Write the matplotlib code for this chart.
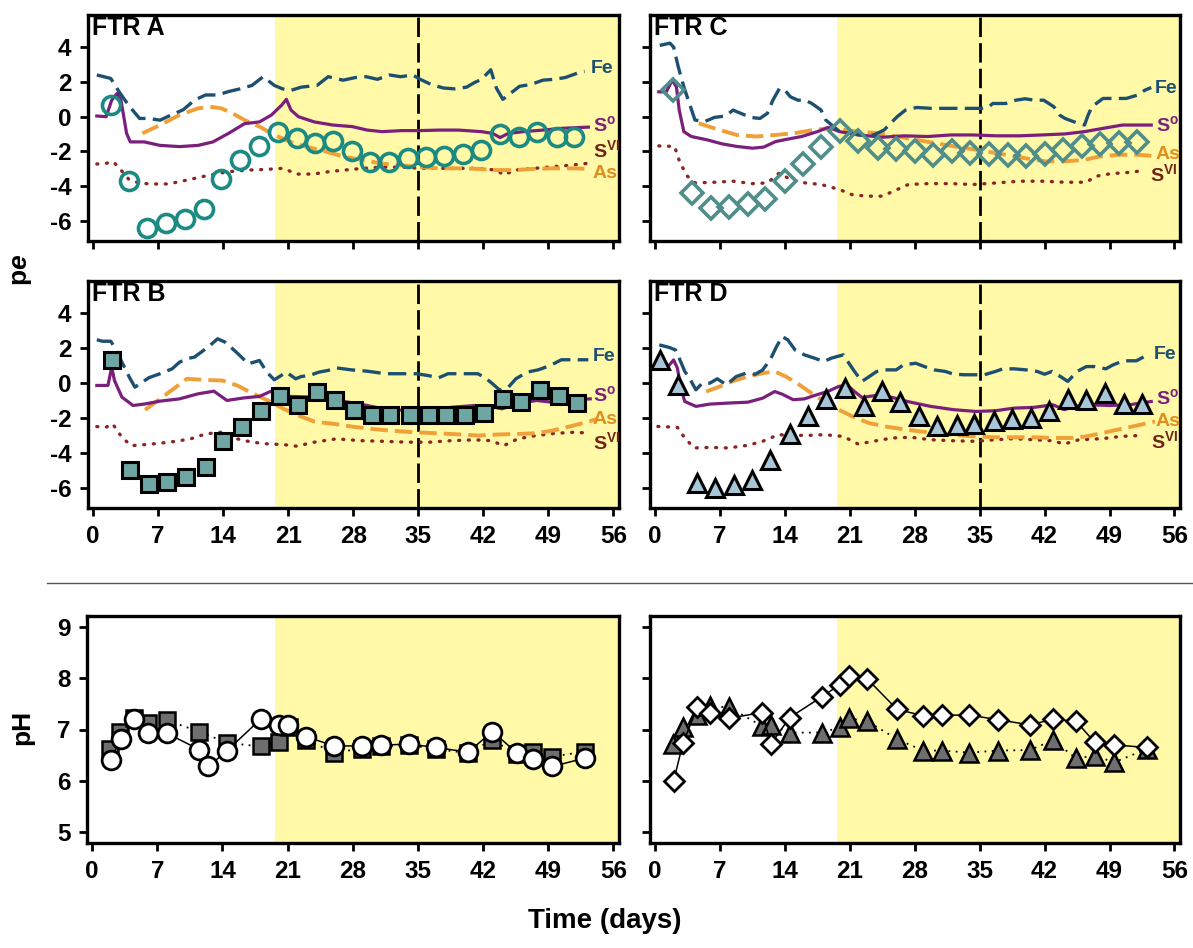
import matplotlib
matplotlib.use("Agg")
import matplotlib.pyplot as plt
import numpy as np
from matplotlib.lines import Line2D

plt.rcParams['font.family'] = ['Liberation Sans Narrow', 'Liberation Sans', 'DejaVu Sans']
plt.rcParams['font.weight'] = 'bold'
plt.rcParams['axes.unicode_minus'] = False
plt.rcParams['mathtext.fontset'] = 'custom'
plt.rcParams['mathtext.rm'] = 'Liberation Sans:bold'
plt.rcParams['mathtext.bf'] = 'Liberation Sans:bold'
plt.rcParams['mathtext.it'] = 'Liberation Sans:bold:italic'

# ---------------- FTR A ----------------
a_mark_day = [1.9, 3.9, 5.8, 7.8, 9.9, 11.9, 13.8, 15.8, 17.9, 19.9, 21.9, 23.9, 25.8,
              27.9, 29.8, 31.8, 33.9, 35.8, 37.8, 39.8, 41.8, 43.8, 45.8, 47.8, 49.9, 51.8]
a_mark_pe = [0.67, -3.7, -6.4, -6.1, -5.9, -5.3, -3.6, -2.5, -1.7, -0.86, -1.25, -1.5, -1.4,
             -2.0, -2.6, -2.6, -2.4, -2.3, -2.25, -2.15, -1.9, -1.0, -1.15, -0.9, -1.15, -1.15]
a_fe_day = [0.4, 1.9, 2.9, 3.9, 5.0, 6.0, 7.2, 8.4, 9.7, 10.9, 12.1, 13.4, 14.6, 15.8, 17.1,
            18.3, 19.5, 20.4, 21.2, 22.4, 24.1, 25.3, 26.9, 28.2, 29.4, 30.6, 31.9, 33.1,
            34.4, 35.2, 36.4, 37.7, 38.9, 40.2, 41.0, 41.8, 42.8, 43.4, 44.1, 44.7, 45.9,
            47.1, 48.4, 49.6, 50.8, 52.1, 52.9]
a_fe_pe = [2.4, 2.2, 1.35, 0.6, -0.1, -0.1, -0.2, 0.1, 0.4, 0.95, 1.25, 1.25, 1.45, 1.6, 1.8,
           2.3, 1.8, 1.6, 1.5, 1.7, 1.8, 2.3, 2.1, 2.25, 2.3, 2.15, 2.4, 2.3,
           2.4, 2.15, 1.85, 1.65, 1.6, 1.7, 1.95, 2.15, 2.7, 1.65, 1.0, 1.25, 1.75,
           1.85, 2.1, 2.15, 2.25, 2.5, 2.6]
a_s0_day = [0.4, 1.4, 2.0, 2.6, 3.0, 3.6, 4.0, 5.5, 7.2, 9.3, 11.3, 12.9, 14.6, 16.3, 17.9,
            19.2, 20.3, 20.8, 21.3, 22.1, 23.8, 25.8, 27.9, 29.5, 31.1, 33.2, 35.2, 37.2,
            39.3, 41.8, 43.0, 43.8, 44.7, 46.3, 48.4, 50.4, 53.3]
a_s0_pe = [0.04, 0.0, 0.95, 1.35, 0.95, -0.95, -1.45, -1.45, -1.65, -1.72, -1.65, -1.45,
           -0.95, -0.4, -0.3, 0.1, 0.67, 1.0, 0.38, 0.0, -0.3, -0.48, -0.57, -0.77, -0.86,
           -0.8, -0.8, -0.77, -0.77, -0.86, -0.96, -1.2, -0.96, -0.86, -0.77, -0.67, -0.6]
a_as_day = [5.3, 7.2, 9.3, 11.3, 12.6, 13.8, 15.0, 16.3, 17.9, 19.5, 21.2, 22.9, 25.0, 27.0,
            29.1, 31.1, 33.2, 35.2, 37.2, 39.3, 41.3, 43.4, 45.4, 47.5, 49.6, 51.6, 53.3]
a_as_pe = [-0.96, -0.48, 0.1, 0.48, 0.57, 0.48, 0.19, -0.19, -0.57, -1.05, -1.44, -1.72,
           -2.0, -2.3, -2.5, -2.7, -2.8, -2.9, -2.97, -2.97, -3.0, -3.07, -3.07, -3.0,
           -2.97, -2.97, -3.0]
a_svi_day = [0.4, 1.4, 2.2, 3.0, 3.9, 5.1, 6.3, 8.0, 9.3, 10.9, 12.6, 14.6, 16.7, 18.7, 20.4,
             22.0, 23.7, 25.4, 27.0, 29.1, 31.1, 33.2, 35.2, 37.2, 39.3, 41.3, 43.4, 44.2,
             45.4, 47.5, 49.6, 51.6, 53.3]
a_svi_pe = [-2.72, -2.68, -2.6, -3.07, -3.64, -3.83, -3.87, -3.87, -3.74, -3.55, -3.35,
            -3.16, -3.07, -3.03, -2.97, -3.3, -3.3, -3.16, -3.07, -2.97, -2.9, -2.9, -2.97,
            -2.97, -2.97, -2.97, -3.07, -3.35, -3.07, -2.97, -2.87, -2.78, -2.68]

# ---------------- FTR B ----------------
b_mark_day = [2.0, 4.0, 6.0, 8.0, 10.0, 12.1, 14.0, 16.0, 18.1, 20.1, 22.1, 24.1, 26.0,
              28.1, 30.0, 32.0, 34.1, 36.1, 38.0, 40.0, 42.1, 44.1, 46.1, 48.1, 50.1, 52.1]
b_mark_pe = [1.3, -4.95, -5.77, -5.68, -5.39, -4.78, -3.33, -2.49, -1.61, -0.75, -1.24,
             -0.48, -0.99, -1.51, -1.82, -1.82, -1.82, -1.82, -1.82, -1.82, -1.72, -0.9,
             -1.09, -0.38, -0.76, -1.15]
b_fe_day = [0.4, 1.0, 1.9, 2.3, 3.1, 3.9, 4.5, 6.0, 7.2, 8.5, 9.3, 10.1, 10.9, 11.8, 12.8,
            13.4, 14.2, 15.0, 15.6, 16.7, 17.3, 17.9, 18.7, 19.5, 20.8, 21.8, 22.4, 23.3,
            24.3, 25.3, 26.1, 27.8, 29.4, 31.5, 33.1, 34.8, 36.0, 37.2, 38.2, 39.7, 41.4,
            42.2, 43.0, 43.8, 44.7, 45.5, 46.7, 47.9, 49.2, 50.4, 52.1, 53.3]
b_fe_pe = [2.49, 2.4, 2.4, 2.06, 1.2, 0.34, -0.23, 0.31, 0.54, 0.82, 1.2, 1.4, 1.49, 1.84,
           2.26, 2.54, 2.35, 1.97, 1.68, 1.11, 1.2, 1.3, 0.63, 0.19, 0.63, 0.25, 0.38, 0.44,
           0.63, 0.73, 0.88, 0.76, 0.69, 0.54, 0.54, 0.54, 0.44, 0.31, 0.54, 0.54, 0.54,
           0.31, -0.04, -0.42, -0.23, 0.25, 0.63, 0.76, 1.01, 1.34, 1.34, 1.34]
b_s0_day = [0.4, 1.6, 2.0, 2.3, 3.1, 4.3, 5.6, 7.2, 9.3, 11.3, 13.0, 14.4, 16.3, 17.9, 19.5,
            21.2, 23.7, 26.2, 28.7, 31.2, 33.7, 36.2, 38.6, 41.1, 42.8, 44.0, 45.7, 47.7,
            49.4, 51.0, 53.5]
b_s0_pe = [-0.13, -0.13, 0.92, 0.15, -0.8, -1.28, -1.19, -1.03, -0.9, -0.61, -0.46, -0.99,
           -0.84, -0.76, -0.38, -0.76, -0.8, -0.99, -1.19, -1.47, -1.57, -1.57, -1.38,
           -1.28, -1.34, -1.47, -1.19, -0.99, -1.09, -0.99, -0.9]
b_as_day = [5.6, 7.2, 8.9, 10.1, 11.8, 13.9, 15.5, 17.1, 18.8, 20.5, 22.1, 23.8, 25.9, 27.9,
            30.0, 32.0, 34.5, 37.0, 39.5, 41.5, 43.6, 45.6, 47.7, 49.4, 51.0, 52.7, 54.3]
b_as_pe = [-1.53, -0.9, -0.23, 0.25, 0.19, 0.15, -0.13, -0.57, -0.99, -1.47, -1.85, -2.2,
           -2.33, -2.49, -2.62, -2.72, -2.81, -2.87, -2.94, -3.0, -2.94, -2.91, -2.87,
           -2.72, -2.52, -2.29, -2.05]
b_svi_day = [0.4, 1.4, 2.1, 3.1, 4.1, 5.6, 7.2, 8.9, 10.5, 12.1, 13.8, 15.5, 17.1, 18.8, 20.5,
             21.9, 23.8, 26.2, 28.7, 31.2, 33.7, 36.2, 38.6, 41.1, 42.8, 44.2, 45.7, 47.7,
             49.8, 51.9, 53.5]
b_svi_pe = [-2.49, -2.52, -2.33, -3.1, -3.58, -3.52, -3.44, -3.33, -3.19, -2.91, -2.81,
            -3.19, -3.38, -3.48, -3.52, -3.61, -3.38, -3.19, -3.29, -3.33, -3.38, -3.38,
            -3.29, -3.25, -3.29, -3.58, -3.19, -3.0, -2.87, -2.81, -2.87]

# ---------------- FTR C ----------------
c_mark_day = [1.9, 4.0, 6.0, 8.0, 10.0, 11.9, 14.0, 16.0, 17.9, 19.9, 21.9, 24.0, 26.0,
              28.0, 30.0, 32.0, 34.0, 36.0, 38.0, 40.0, 42.0, 44.0, 46.0, 48.0, 50.0, 52.0]
c_mark_pe = [1.56, -4.4, -5.24, -5.18, -5.0, -4.72, -3.71, -2.7, -1.75, -0.8, -1.37, -1.81,
             -1.85, -2.0, -2.19, -2.0, -2.06, -2.13, -2.19, -2.25, -2.13, -1.94, -1.68,
             -1.56, -1.49, -1.43]
c_fe_day = [0.5, 1.6, 2.0, 2.5, 3.1, 3.7, 4.3, 5.3, 6.4, 7.6, 8.4, 9.25, 10.3, 11.3, 12.1,
            12.7, 13.4, 14.0, 14.6, 15.4, 16.2, 16.9, 17.9, 18.4, 19.9, 22.0, 23.6, 24.7,
            26.1, 27.0, 28.2, 29.8, 31.5, 32.7, 34.3, 35.2, 36.0, 36.4, 37.8, 38.9, 39.9,
            40.9, 41.9, 43.0, 43.6, 44.2, 45.4, 46.3, 46.7, 47.1, 48.3, 49.6, 50.8, 52.0,
            52.8, 53.5]
c_fe_pe = [4.1, 4.23, 4.0, 2.86, 1.71, 0.76, -0.19, -0.29, -0.04, 0.04, 0.38, 0.19, -0.04,
           -0.1, 0.19, 0.95, 1.62, 1.52, 1.14, 0.95, 0.95, 0.76, 0.38, -0.19, -0.86, -1.05,
           -1.05, -0.76, 0.0, 0.38, 0.53, 0.48, 0.48, 0.48, 0.48, 0.48, 0.57, 0.76, 0.76,
           0.95, 1.03, 0.95, 0.95, 0.57, 0.1, -0.1, -0.34, -0.48, 0.1, 0.57, 1.05, 1.05,
           1.05, 1.24, 1.52, 1.68]
c_s0_day = [0.4, 1.2, 1.85, 2.3, 2.6, 3.1, 3.9, 5.6, 7.2, 8.8, 10.5, 11.7, 13.0, 14.2, 15.8,
            17.5, 18.7, 19.9, 22.0, 24.5, 26.9, 29.4, 31.9, 34.3, 36.8, 39.3, 41.7, 44.2,
            46.3, 48.3, 50.4, 53.5]
c_s0_pe = [1.43, 1.43, 2.1, 1.71, 0.38, -0.86, -1.14, -1.33, -1.56, -1.71, -1.81, -1.75,
           -1.43, -1.3, -1.14, -0.86, -0.61, -0.86, -1.05, -1.18, -1.1, -1.14, -1.05, -1.05,
           -1.1, -1.1, -1.05, -0.99, -0.86, -0.67, -0.48, -0.48]
c_as_day = [4.7, 6.4, 8.8, 10.9, 13.0, 15.0, 17.1, 18.7, 20.4, 22.0, 24.1, 26.1, 28.2, 30.2,
            32.3, 34.3, 36.4, 38.4, 40.5, 42.1, 44.2, 46.3, 47.9, 50.0, 52.0, 53.5]
c_as_pe = [-0.38, -0.67, -1.05, -1.14, -1.05, -0.95, -0.76, -0.67, -0.76, -0.86, -0.95,
           -1.14, -1.33, -1.52, -1.71, -1.87, -2.06, -2.25, -2.44, -2.57, -2.57, -2.48,
           -2.29, -2.19, -2.19, -2.25]
c_svi_day = [0.4, 2.1, 2.7, 3.5, 4.3, 6.4, 8.4, 10.5, 12.1, 13.4, 14.6, 16.2, 17.9, 19.9,
             21.2, 22.8, 24.5, 26.1, 27.3, 29.4, 31.9, 34.3, 36.8, 39.3, 41.7, 44.2, 46.5,
             47.5, 49.1, 51.2, 52.8]
c_svi_pe = [-1.68, -1.71, -2.67, -3.43, -3.81, -3.77, -3.71, -3.85, -3.81, -3.24, -3.62,
            -3.81, -3.9, -4.19, -4.48, -4.57, -4.57, -4.19, -3.9, -3.85, -3.85, -3.9, -3.81,
            -3.71, -3.71, -3.77, -3.77, -3.43, -3.28, -3.2, -3.09]

# ---------------- FTR D ----------------
d_mark_day = [0.5, 2.5, 4.5, 6.5, 8.5, 10.5, 12.4, 14.5, 16.5, 18.4, 20.5, 22.5, 24.5, 26.4,
              28.5, 30.4, 32.5, 34.4, 36.5, 38.5, 40.5, 42.5, 44.5, 46.5, 48.5, 50.6, 52.5]
d_mark_pe = [1.33, -0.13, -5.71, -6.0, -5.81, -5.52, -4.38, -2.91, -1.9, -0.9, -0.29, -1.33,
             -0.44, -1.09, -1.9, -2.48, -2.42, -2.34, -2.19, -2.06, -2.0, -1.58, -0.9,
             -0.95, -0.57, -1.2, -1.2]
d_fe_day = [0.45, 1.56, 2.2, 2.6, 3.2, 3.7, 4.4, 5.1, 5.9, 6.7, 7.7, 8.75, 9.8, 10.8, 11.6,
            12.4, 13.1, 13.7, 14.3, 15.1, 16.1, 17.2, 18.2, 19.0, 19.6, 20.3, 20.9, 21.5,
            22.3, 23.1, 23.9, 24.8, 26.0, 26.8, 28.1, 29.3, 30.1, 31.3, 32.2, 33.4, 34.6,
            35.5, 36.7, 37.5, 38.7, 40.0, 41.2, 42.0, 42.8, 43.7, 44.5, 45.5, 46.5, 47.4,
            48.6, 49.4, 50.5, 51.9, 53.1]
d_fe_pe = [2.19, 2.04, 1.9, 1.43, 0.67, 0.29, -0.38, 0.0, 0.0, 0.25, -0.1, 0.38, 0.57, 0.51,
           0.76, 1.33, 2.1, 2.67, 2.48, 1.9, 1.62, 1.43, 1.24, 1.43, 1.52, 1.62, 1.14, 0.67,
           0.1, 0.38, 0.67, 0.76, 0.76, 1.05, 1.14, 0.9, 0.76, 0.67, 0.51, 0.48, 0.48, 0.48,
           0.67, 0.82, 0.82, 0.76, 0.67, 0.51, 0.67, 0.38, 0.1, 0.67, 0.95, 0.95, 0.82,
           1.05, 1.28, 1.28, 1.62]
d_s0_day = [0.1, 1.4, 2.0, 2.4, 2.8, 3.2, 4.4, 5.9, 7.9, 10.0, 11.6, 12.9, 13.7, 14.9, 16.1,
            17.4, 18.6, 19.8, 20.7, 21.5, 22.3, 23.9, 25.6, 27.2, 29.7, 32.2, 34.6, 36.7,
            38.7, 40.8, 42.9, 44.1, 45.3, 47.0, 49.0, 51.1, 53.5]
d_s0_pe = [1.0, 0.95, 1.33, 0.86, -0.29, -1.05, -1.33, -1.2, -1.14, -1.09, -0.86, -0.48,
           -0.63, -0.95, -0.9, -0.67, -0.48, -0.19, -0.1, -0.48, -0.82, -0.7, -0.82, -1.05,
           -1.33, -1.52, -1.62, -1.58, -1.43, -1.39, -1.24, -1.52, -1.33, -1.24, -1.28,
           -1.24, -1.05]
d_as_day = [5.5, 6.7, 8.3, 10.0, 11.6, 12.9, 14.1, 15.3, 16.6, 18.2, 19.8, 21.5, 23.1, 24.8,
            26.4, 28.5, 30.5, 32.6, 34.6, 36.7, 38.7, 40.8, 42.9, 44.9, 46.5, 48.2, 49.8,
            51.5, 53.1, 53.9]
d_as_pe = [-0.48, -0.25, 0.1, 0.38, 0.57, 0.67, 0.38, 0.0, -0.48, -1.05, -1.52, -1.96,
           -2.29, -2.48, -2.61, -2.76, -2.86, -2.99, -3.05, -3.1, -3.1, -3.1, -3.14, -3.14,
           -3.05, -2.86, -2.67, -2.48, -2.29, -2.19]
d_svi_day = [0.3, 2.4, 3.2, 4.2, 5.9, 7.9, 10.0, 11.6, 13.3, 14.9, 16.6, 18.2, 20.3, 21.9,
             23.5, 25.6, 27.6, 29.7, 32.2, 34.6, 36.7, 38.7, 40.8, 42.9, 44.1, 45.7, 48.2,
             50.2, 52.7]
d_svi_pe = [-2.48, -2.53, -3.14, -3.71, -3.68, -3.71, -3.56, -3.33, -2.95, -2.99, -2.99,
            -2.95, -3.05, -3.49, -3.33, -3.14, -3.1, -3.24, -3.3, -3.33, -3.24, -3.18, -3.24,
            -3.3, -3.49, -3.24, -3.18, -3.05, -2.99]

# ---------------- pH ----------------
ph_circ_day = [2.0, 3.05, 4.5, 6.0, 8.0, 11.5, 12.5, 14.5, 18.1, 20.1, 21.0, 23.0, 26.0,
               29.0, 31.0, 34.0, 36.9, 40.4, 43.0, 45.6, 47.4, 49.4, 52.9]
ph_circ = [6.41, 6.81, 7.2, 6.94, 6.93, 6.61, 6.28, 6.59, 7.2, 7.09, 7.09, 6.86, 6.68,
           6.68, 6.69, 6.72, 6.65, 6.56, 6.96, 6.55, 6.42, 6.28, 6.44]
ph_sq_day = [1.9, 3.0, 4.5, 6.05, 8.0, 11.5, 14.5, 18.1, 20.1, 21.1, 23.0, 26.0, 29.0,
             31.0, 34.0, 36.9, 40.4, 43.0, 45.6, 47.4, 49.4, 52.9]
ph_sq = [6.63, 6.96, 7.22, 7.13, 7.18, 6.96, 6.74, 6.67, 6.76, 7.05, 6.8, 6.55, 6.63,
         6.67, 6.7, 6.62, 6.54, 6.8, 6.52, 6.57, 6.47, 6.57]
ph_dia_day = [2.0, 3.0, 4.55, 5.96, 8.0, 11.5, 12.5, 14.5, 18.0, 19.9, 20.9, 22.9, 26.1,
              28.9, 30.9, 33.9, 37.0, 40.4, 42.9, 45.4, 47.4, 49.5, 53.0]
ph_dia = [6.0, 6.73, 7.43, 7.33, 7.22, 7.33, 6.72, 7.23, 7.64, 7.87, 8.04, 7.98, 7.39,
          7.27, 7.28, 7.28, 7.19, 7.09, 7.2, 7.16, 6.75, 6.7, 6.65]
ph_tri_day = [1.9, 3.0, 4.55, 5.96, 8.0, 11.5, 12.5, 14.6, 18.0, 19.9, 20.9, 22.9, 26.1,
              28.9, 30.9, 33.9, 37.0, 40.4, 42.9, 45.4, 47.4, 49.5, 53.0]
ph_tri = [6.72, 7.04, 7.28, 7.45, 7.43, 7.07, 7.08, 6.94, 6.94, 7.04, 7.22, 7.16, 6.81,
          6.59, 6.59, 6.55, 6.59, 6.6, 6.79, 6.44, 6.49, 6.36, 6.62]

day_ticks = [0, 7, 14, 21, 28, 35, 42, 49, 56]
shade_start = 19.6
switch_day = 35

FE = '#1d4f70'
S0 = '#7a1f7c'
AS = '#f0a038'
SVI = '#8b2525'
YELLOW = '#fff9a8'
LABEL_FONT = ['Liberation Sans', 'DejaVu Sans']

fig = plt.figure(figsize=(11.93, 9.48), dpi=100)
W, H = 1193.0, 948.0


def add_ax(x0, y0, x1, y1):
    return fig.add_axes([x0 / W, 1 - y1 / H, (x1 - x0) / W, (y1 - y0) / H])


def base(ax, ylim, yticks, xlab, ylab):
    ax.set_xlim(-0.55, 56.6)
    ax.set_ylim(*ylim)
    ax.set_xticks(day_ticks)
    ax.set_yticks(yticks)
    ax.tick_params(direction='out', length=6, width=2, labelsize=17.5, pad=6)
    if not xlab:
        ax.set_xticklabels([])
    if not ylab:
        ax.set_yticklabels([])
    for sp in ax.spines.values():
        sp.set_linewidth(2.4)
    ax.axvspan(shade_start, 60, color=YELLOW, lw=0, zorder=0)


def pe_panel(ax, title, fe, s0, as_, svi, mark, mstyle, labels, xlab, ylab):
    base(ax, (-7.15, 5.85), [4, 2, 0, -2, -4, -6], xlab, ylab)
    ax.axvline(switch_day, color='black', lw=2.0, dashes=(7, 2.2), zorder=1)
    ax.plot(*svi, color=SVI, lw=2.4, linestyle=(0, (0.3, 2.6)), dash_capstyle='round', zorder=2)
    ax.plot(*as_, color=AS, lw=2.8, dashes=(4.5, 1.8), zorder=2)
    ax.plot(*s0, color=S0, lw=2.3, zorder=2)
    ax.plot(*fe, color=FE, lw=2.4, dashes=(5.5, 2.2), zorder=2)
    ax.plot(*mark, linestyle='none', zorder=3, **mstyle)
    ax.text(0.008, 0.995, title, transform=ax.transAxes, ha='left', va='top',
            fontsize=18, family=LABEL_FONT, weight='bold')
    names = [('Fe', FE), (r'S$^{\rm o}$', S0), ('As', '#e08e1c'), (r'S$^{\rm VI}$', '#6e2418')]
    for (txt, col), (x, y) in zip(names, labels):
        ax.text(x, y, txt, color=col, fontsize=14, ha='left', va='center',
                family=LABEL_FONT, weight='bold', zorder=4)


ax_a = add_ax(88, 15, 619, 241)
pe_panel(ax_a, 'FTR A', (a_fe_day, a_fe_pe), (a_s0_day, a_s0_pe), (a_as_day, a_as_pe),
         (a_svi_day, a_svi_pe), (a_mark_day, a_mark_pe),
         dict(marker='o', ms=13, mfc='none', mec='#1a8a82', mew=2.6),
         [(53.6, 2.75), (53.8, -0.45), (53.8, -3.25), (53.8, -1.9)], False, True)

ax_c = add_ax(650, 15, 1180, 241)
pe_panel(ax_c, 'FTR C', (c_fe_day, c_fe_pe), (c_s0_day, c_s0_pe), (c_as_day, c_as_pe),
         (c_svi_day, c_svi_pe), (c_mark_day, c_mark_pe),
         dict(marker='D', ms=11, mfc='none', mec='#4f8e8a', mew=2.6),
         [(53.9, 1.62), (54.0, -0.48), (54.0, -2.19), (53.4, -3.33)], False, False)

ax_b = add_ax(88, 281, 619, 508)
pe_panel(ax_b, 'FTR B', (b_fe_day, b_fe_pe), (b_s0_day, b_s0_pe), (b_as_day, b_as_pe),
         (b_svi_day, b_svi_pe), (b_mark_day, b_mark_pe),
         dict(marker='s', ms=11, mfc='#6ea6a4', mec='black', mew=2.2),
         [(53.8, 1.5), (53.8, -0.69), (53.8, -2.1), (53.8, -3.4)], True, True)

ax_d = add_ax(650, 281, 1180, 508)
pe_panel(ax_d, 'FTR D', (d_fe_day, d_fe_pe), (d_s0_day, d_s0_pe), (d_as_day, d_as_pe),
         (d_svi_day, d_svi_pe), (d_mark_day, d_mark_pe),
         dict(marker='^', ms=12.5, mfc='#a9c6d8', mec='black', mew=2.2),
         [(53.8, 1.62), (54.0, -0.86), (54.0, -2.19), (53.5, -3.33)], True, False)

# pH panels
ax_e = add_ax(87, 616, 619, 843)
base(ax_e, (4.79, 9.21), [5, 6, 7, 8, 9], True, True)
ax_e.plot(ph_sq_day, ph_sq, color='black', lw=1.3, linestyle=(0, (1, 3)), marker='s', ms=11,
          mfc='#6e6e6e', mec='black', mew=1.8, zorder=2)
ax_e.plot(ph_circ_day, ph_circ, color='black', lw=1.1, marker='o', ms=13.5,
          mfc='white', mec='black', mew=2.0, zorder=3)

ax_f = add_ax(650, 616, 1180, 843)
base(ax_f, (4.79, 9.21), [5, 6, 7, 8, 9], True, False)
ax_f.plot(ph_tri_day, ph_tri, color='black', lw=1.3, linestyle=(0, (1, 3)), marker='^', ms=12.5,
          mfc='#6e6e6e', mec='black', mew=1.8, zorder=2)
ax_f.plot(ph_dia_day, ph_dia, color='black', lw=1.1, marker='D', ms=10.5,
          mfc='white', mec='black', mew=2.0, zorder=3)

fig.text(22 / W, 1 - 270 / H, r'p$e$', rotation=90, ha='center', va='center',
         fontsize=19, family=LABEL_FONT, weight='bold')
fig.text(22 / W, 1 - 727 / H, 'pH', rotation=90, ha='center', va='center',
         fontsize=19, family=LABEL_FONT, weight='bold')
fig.text(605 / W, 1 - 921 / H, 'Time (days)', ha='center', va='center',
         fontsize=20, family=LABEL_FONT, weight='bold')
fig.add_artist(Line2D([47 / W, 1.0], [1 - 583 / H] * 2, color='#555555', lw=1.0,
                      transform=fig.transFigure))

fig.savefig('out.png', dpi=100)
